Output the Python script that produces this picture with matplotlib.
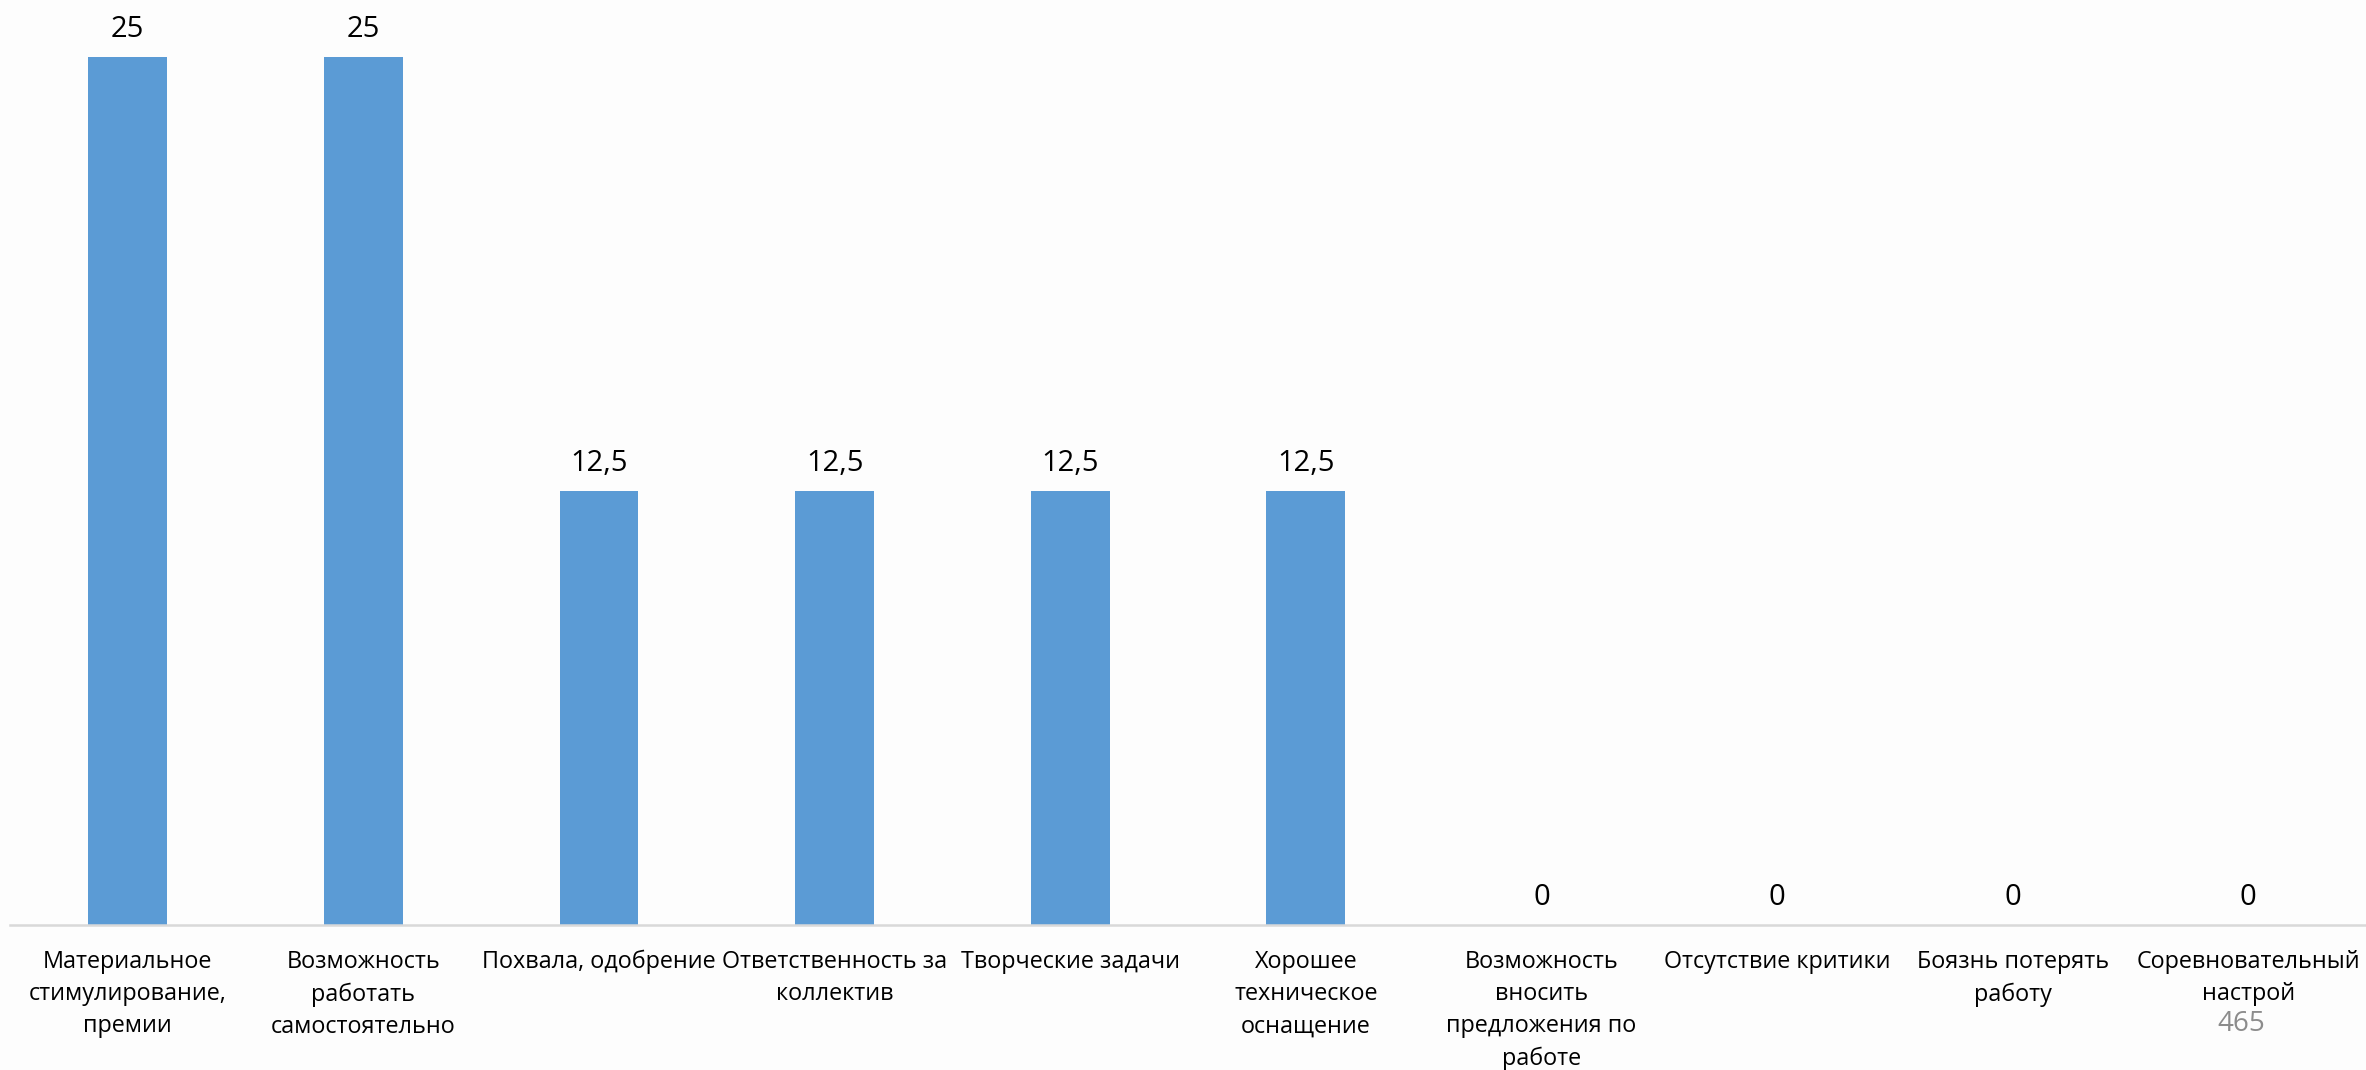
import matplotlib
matplotlib.use("Agg")
import matplotlib.pyplot as plt

plt.rcParams['font.family'] = ['Open Sans', 'DejaVu Sans']

categories = [
    "Материальное\nстимулирование,\nпремии",
    "Возможность\nработать\nсамостоятельно",
    "Похвала, одобрение",
    "Ответственность за\nколлектив",
    "Творческие задачи",
    "Хорошее\nтехническое\nоснащение",
    "Возможность\nвносить\nпредложения по\nработе",
    "Отсутствие критики",
    "Боязнь потерять\nработу",
    "Соревновательный\nнастрой",
]
values = [25, 25, 12.5, 12.5, 12.5, 12.5, 0, 0, 0, 0]
value_labels = ["25", "25", "12,5", "12,5", "12,5", "12,5", "0", "0", "0", "0"]
page_number = "465"

W, H = 2366, 1070
fig = plt.figure(figsize=(W / 100, H / 100), dpi=100, facecolor='#fdfdfd')
ax = fig.add_axes([10 / W, 145 / H, 1 - 10 / W, 925 / H])
ax.set_facecolor('#fdfdfd')

x = list(range(len(categories)))
ax.bar(x, values, width=0.335, color='#5B9BD5', zorder=2)
ax.set_xlim(-0.5, len(categories) - 0.5)
ax.set_ylim(0, 25 * 925 / 868)

for xi, v, lab in zip(x, values, value_labels):
    ax.annotate(lab, (xi, v), xytext=(0, 14.5), textcoords='offset points',
                ha='center', va='baseline', fontsize=21, color='black')

for s in ['top', 'right', 'left']:
    ax.spines[s].set_visible(False)
ax.spines['bottom'].set_color('#d9d9d9')
ax.spines['bottom'].set_linewidth(1.8)
ax.set_yticks([])
ax.set_xticks(x)
ax.set_xticklabels(categories, fontsize=16.8, linespacing=1.45)
ax.tick_params(axis='x', length=0, pad=18)

fig.text(2241 / W, 1 - 1024 / H, page_number, ha='center', va='center',
         fontsize=20, color='#8c8c8c')

fig.savefig('out.png', dpi=100, facecolor=fig.get_facecolor())
